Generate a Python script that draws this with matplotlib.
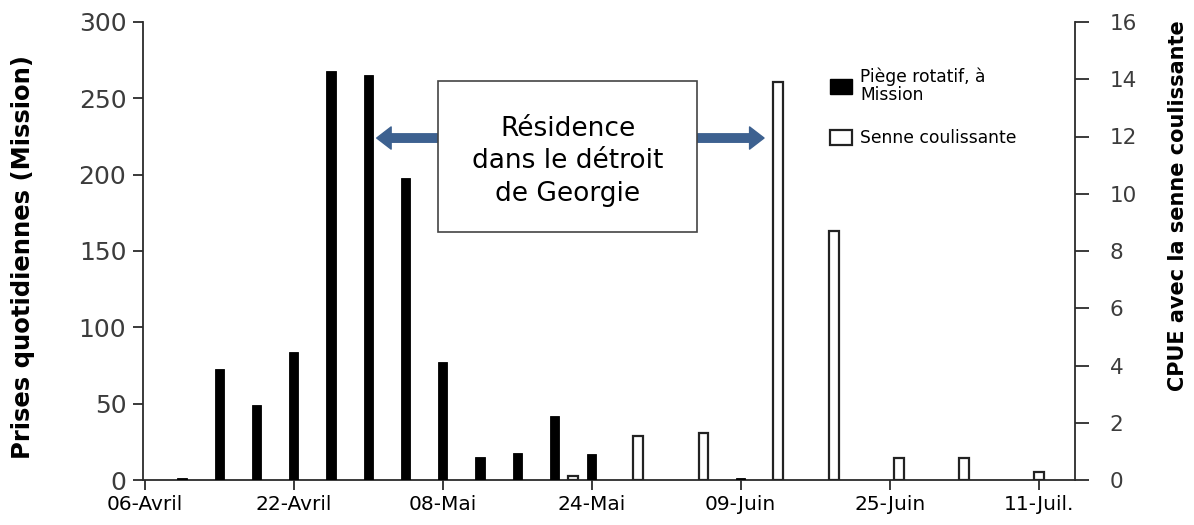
import matplotlib

matplotlib.use("Agg")
import matplotlib.pyplot as plt
from matplotlib.patches import FancyArrowPatch, Patch, Rectangle

# jours comptés depuis le 06 avril
jours_piege = [4, 8, 12, 16, 20, 24, 28, 32, 36, 40, 44, 48, 64]
prises_piege = [1, 73, 49, 84, 268, 265, 198, 77, 15, 18, 42, 17, 1]

jours_senne = [46, 53, 60, 68, 74, 81, 88, 96]
cpue_senne = [0.15, 1.55, 1.63, 13.9, 8.7, 0.78, 0.78, 0.28]

ticks_jours = [0, 16, 32, 48, 64, 80, 96]
ticks_dates = ["06-Avril", "22-Avril", "08-Mai", "24-Mai", "09-Juin", "25-Juin", "11-Juil."]

GRIS_AXE = "#2b2b2b"
GRIS_TEXTE = "#3c3c3c"
BLEU = "#3d6190"

plt.rcParams["font.family"] = "DejaVu Sans"

figure = plt.figure(figsize=(11.94, 5.25), dpi=100)
eje = figure.add_axes([143 / 1194, 45 / 525, 932 / 1194, 458 / 525])
eje2 = eje.twinx()

eje.bar(jours_piege, prises_piege, width=1.0, color="black",
        edgecolor="black", linewidth=0.6, zorder=3)
eje2.bar(jours_senne, cpue_senne, width=1.05, color="white",
         edgecolor="#222222", linewidth=1.6, zorder=3)

eje.set_xlim(-0.2, 99.9)
eje.set_xticks(ticks_jours, ticks_dates)
eje.set_ylim(0, 300)
eje.set_yticks(range(0, 301, 50))
eje2.set_ylim(0, 16)
eje2.set_yticks(range(0, 17, 2))

for lado in ("top", "right"):
    eje.spines[lado].set_visible(False)
for lado in ("top", "left", "bottom"):
    eje2.spines[lado].set_visible(False)
eje.spines["left"].set(color=GRIS_AXE, linewidth=1.3)
eje.spines["bottom"].set(color=GRIS_AXE, linewidth=1.3)
eje2.spines["right"].set(color=GRIS_AXE, linewidth=1.3)

eje.tick_params(axis="y", length=7, width=1.3, color=GRIS_AXE,
                labelsize=18, labelcolor=GRIS_TEXTE, pad=5)
eje.tick_params(axis="x", length=7, width=1.3, color=GRIS_AXE,
                labelsize=14.5, pad=4)
eje2.tick_params(axis="y", length=10, width=1.3, color=GRIS_AXE,
                 labelsize=15.5, labelcolor=GRIS_TEXTE, pad=15)

eje.set_ylabel("Prises quotidiennes (Mission)", fontsize=17.5, fontweight="bold")
eje.yaxis.set_label_coords(-0.116, 0.487)
eje2.set_ylabel("CPUE avec la senne coulissante", fontsize=15, fontweight="bold")
eje2.yaxis.set_label_coords(1.0998, 0.598)

# encadré de la période de résidence
caja = Rectangle((31.5, 162.4), 27.8, 98.9, facecolor="white",
                 edgecolor="#444444", linewidth=1.2, zorder=5)
eje.add_patch(caja)
eje.text(45.4, 208.8, "Résidence\ndans le détroit\nde Georgie", ha="center",
         va="center", fontsize=19, linespacing=1.33, zorder=6)

estilo = "simple,head_length=0.65,head_width=1.0,tail_width=0.38"
for depart, pointe in [((31.5, 224), (24.9, 224)), ((59.3, 224), (66.5, 224))]:
    fleche = FancyArrowPatch(depart, pointe, arrowstyle=estilo, mutation_scale=16,
                             color=BLEU, shrinkA=0, shrinkB=0, zorder=4)
    eje.add_patch(fleche)

marcas = [Patch(facecolor="black", edgecolor="black"),
          Patch(facecolor="white", edgecolor="#222222", linewidth=1.6)]
leyenda = eje2.legend(marcas, ["Piège rotatif, à\nMission", "Senne coulissante"],
                      loc="upper left", bbox_to_anchor=(830 / 1194, 1 - 67 / 525),
                      bbox_transform=figure.transFigure, frameon=False,
                      prop={"size": 12.3}, handlelength=1.3, handleheight=1.0,
                      handletextpad=0.45, labelspacing=1.5, borderpad=0,
                      borderaxespad=0)
for texto in leyenda.get_texts():
    texto.set_linespacing(1.0)

figure.savefig("out.png", dpi=100)
plt.close(figure)
